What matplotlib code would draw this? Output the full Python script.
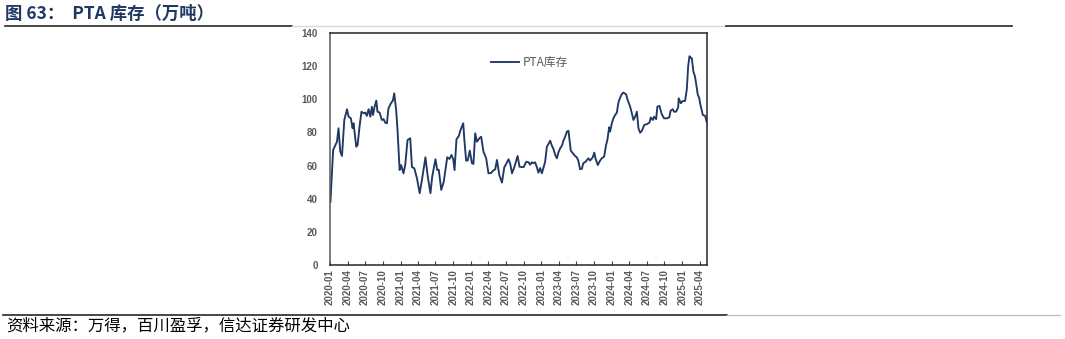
import matplotlib
matplotlib.use("Agg")
import matplotlib.pyplot as plt
import matplotlib.dates as mdates
import pandas as pd
from matplotlib.lines import Line2D

plt.rcParams['font.family'] = ['Noto Sans CJK SC', 'DejaVu Sans']

# PTA 库存（万吨），周度数据
dates = [
    "2020-01-03", "2020-01-17", "2020-02-06", "2020-02-14", "2020-02-23", "2020-03-03",
    "2020-03-15", "2020-03-29", "2020-04-06", "2020-04-18", "2020-04-27", "2020-05-02",
    "2020-05-16", "2020-05-23", "2020-06-02", "2020-06-12", "2020-06-23", "2020-07-02",
    "2020-07-10", "2020-07-19", "2020-07-28", "2020-08-05", "2020-08-11", "2020-08-19",
    "2020-08-28", "2020-09-03", "2020-09-14", "2020-09-26", "2020-10-05", "2020-10-13",
    "2020-10-22", "2020-10-30", "2020-11-12", "2020-11-22", "2020-11-29", "2020-12-09",
    "2020-12-16", "2020-12-27", "2021-01-04", "2021-01-11", "2021-01-16", "2021-01-25",
    "2021-02-06", "2021-02-20", "2021-03-01", "2021-03-13", "2021-03-27", "2021-04-10",
    "2021-04-23", "2021-05-10", "2021-05-22", "2021-06-05", "2021-06-14", "2021-07-01",
    "2021-07-10", "2021-07-18", "2021-07-31", "2021-08-13", "2021-08-31", "2021-09-12",
    "2021-09-22", "2021-10-01", "2021-10-08", "2021-10-18", "2021-10-30", "2021-11-08",
    "2021-11-22", "2021-11-28", "2021-12-07", "2021-12-15", "2021-12-26", "2022-01-06",
    "2022-01-14", "2022-01-23", "2022-02-01", "2022-02-14", "2022-02-23", "2022-03-07",
    "2022-03-21", "2022-04-02", "2022-04-15", "2022-04-27", "2022-05-07", "2022-05-16",
    "2022-05-28", "2022-06-11", "2022-06-23", "2022-07-03", "2022-07-15", "2022-07-24",
    "2022-08-02", "2022-08-14", "2022-08-31", "2022-09-10", "2022-10-01", "2022-10-15",
    "2022-10-27", "2022-11-04", "2022-11-13", "2022-11-21", "2022-11-30", "2022-12-09",
    "2022-12-17", "2022-12-26", "2023-01-04", "2023-01-12", "2023-01-21", "2023-01-30",
    "2023-02-07", "2023-02-16", "2023-02-25", "2023-03-05", "2023-03-14", "2023-03-23",
    "2023-03-31", "2023-04-09", "2023-04-18", "2023-04-26", "2023-05-05", "2023-05-14",
    "2023-05-22", "2023-05-27", "2023-06-03", "2023-06-13", "2023-06-25", "2023-07-04",
    "2023-07-12", "2023-07-21", "2023-07-30", "2023-08-07", "2023-08-19", "2023-09-02",
    "2023-09-11", "2023-09-25", "2023-10-03", "2023-10-10", "2023-10-21", "2023-11-02",
    "2023-11-11", "2023-11-23", "2023-12-03", "2023-12-10", "2023-12-19", "2023-12-24",
    "2024-01-02", "2024-01-10", "2024-01-19", "2024-01-28", "2024-02-05", "2024-02-14",
    "2024-02-23", "2024-03-02", "2024-03-16", "2024-03-23", "2024-04-06", "2024-04-15",
    "2024-04-23", "2024-05-02", "2024-05-11", "2024-05-19", "2024-05-28", "2024-06-06",
    "2024-06-18", "2024-07-02", "2024-07-15", "2024-07-22", "2024-08-02", "2024-08-08",
    "2024-08-19", "2024-08-25", "2024-09-05", "2024-09-17", "2024-09-29", "2024-10-13",
    "2024-10-26", "2024-11-02", "2024-11-13", "2024-11-20", "2024-11-30", "2024-12-11",
    "2024-12-14", "2024-12-25", "2025-01-04", "2025-01-16", "2025-01-25", "2025-02-01",
    "2025-02-08", "2025-02-15", "2025-02-20", "2025-02-28", "2025-03-08", "2025-03-14",
    "2025-03-23", "2025-03-30", "2025-04-04", "2025-04-11", "2025-04-18", "2025-04-30",
    "2025-05-09",
]
pta_stock = [
    38, 69.4, 74.4, 82.5, 68.4, 65.8,
    87.5, 94, 89.5, 88.5, 82.5, 85.5,
    71.4, 72.4, 83.5, 92.5, 91.5, 92,
    90, 94, 89.5, 95.5, 90.5, 95.5,
    99.2, 92.5, 92, 87.5, 88, 85.9,
    85.5, 94.5, 97.6, 99.2, 103.6, 93.5,
    81.5, 57.3, 60.3, 57.5, 55.3, 60.3,
    75.4, 76.5, 59, 58.4, 52.3, 43.3,
    52.3, 65, 53.3, 43.3, 53.3, 63.8,
    57.3, 57.5, 45.3, 50.3, 65, 64,
    66.4, 64, 57.3, 75.9, 77.8, 81.5,
    85.5, 75.4, 63, 63, 69, 61.4,
    61, 79.5, 74.4, 76.5, 77.4, 68.4,
    64.4, 55.3, 55.5, 57, 57.8, 63.4,
    54.3, 49.7, 59, 61, 63.8, 61,
    55.3, 59, 65.8, 59.3, 59, 62.3,
    62, 60.5, 62, 61.4, 62, 59,
    55.7, 58.5, 55.3, 58.5, 62.3, 71.4,
    73, 75, 72, 70, 66.5, 64.4,
    68, 70.4, 72, 75, 77.5, 80.5,
    81, 76, 69, 67.5, 65.8, 65,
    63, 57.8, 58, 61.4, 62.3, 64.4,
    63, 65, 67.8, 64, 60.3, 63,
    64.4, 65.4, 72.4, 75.5, 83.1, 80.5,
    85.5, 88.5, 90.5, 91.9, 98, 101,
    103.2, 104, 103, 100, 95.5, 91.5,
    87.5, 89.5, 92.5, 82.5, 79.8, 81,
    84.5, 85, 85.9, 89, 87.5, 89.5,
    88, 95.5, 96, 91, 88.5, 88.5,
    89.1, 93.1, 94, 92.5, 92.5, 95,
    100.6, 97.6, 99, 99, 106, 120,
    126, 125, 124.7, 116.7, 114, 109.7,
    102.6, 101, 97.6, 94, 90.5, 90,
    86,
]
tick_months = pd.date_range("2020-01-01", "2025-04-01", freq="3MS")

navy = "#1f3864"
grey = "#595959"

fig = plt.figure(figsize=(10.65, 3.39), dpi=100)
ax = fig.add_axes([0.3099, 0.2183, 0.354, 0.6844])

x = pd.to_datetime(dates)
ax.plot(x, pta_stock, color=navy, lw=1.35, label="PTA库存")

ax.set_ylim(0, 140)
ax.set_yticks(range(0, 141, 20))
ax.set_xlim(pd.Timestamp("2020-01-01"), pd.Timestamp("2025-05-10"))
ax.set_xticks(tick_months)
ax.xaxis.set_major_formatter(mdates.DateFormatter("%Y-%m"))

for lab in ax.get_xticklabels() + ax.get_yticklabels():
    lab.set_family("Liberation Sans")
    lab.set_fontweight("bold")
    lab.set_color(grey)
    lab.set_fontsize(7)
for lab in ax.get_xticklabels():
    lab.set_rotation(90)

ax.tick_params(axis="x", direction="in", length=3, width=0.8, color="#404040", pad=3)
ax.tick_params(axis="y", length=0, pad=9)
for s in ax.spines.values():
    s.set_color("#262626")
    s.set_linewidth(1.1)
ax.spines["left"].set_color("#595959")

leg = ax.legend(loc="center", bbox_to_anchor=(0.528, 0.871), frameon=False,
                handlelength=2.4, handletextpad=0.3, prop={"size": 8.5})
for t in leg.get_texts():
    t.set_color(grey)

# 标题与上下分隔线
fig.text(0.005, 0.958, "图 63：  PTA 库存（万吨）", fontsize=12.5, fontweight="bold",
         color="#1f3864", ha="left", va="center")
fig.add_artist(Line2D([5 / 1065, 292 / 1065], [1 - 26 / 339] * 2, color="#262626", lw=1.2))
fig.add_artist(Line2D([292 / 1065, 726 / 1065], [1 - 26 / 339] * 2, color="#d9d9d9", lw=1.0))
fig.add_artist(Line2D([726 / 1065, 1012 / 1065], [1 - 26 / 339] * 2, color="#262626", lw=1.2))
fig.add_artist(Line2D([3 / 1065, 727 / 1065], [1 - 315 / 339] * 2, color="#262626", lw=1.2))
fig.add_artist(Line2D([727 / 1065, 1060 / 1065], [1 - 315 / 339] * 2, color="#bfbfbf", lw=1.0))

fig.text(0.006, 1 - 326 / 339, "资料来源：万得，百川盈孚，信达证券研发中心", fontsize=11.8,
         color="#000000", ha="left", va="center")

fig.savefig("out.png", dpi=100)
